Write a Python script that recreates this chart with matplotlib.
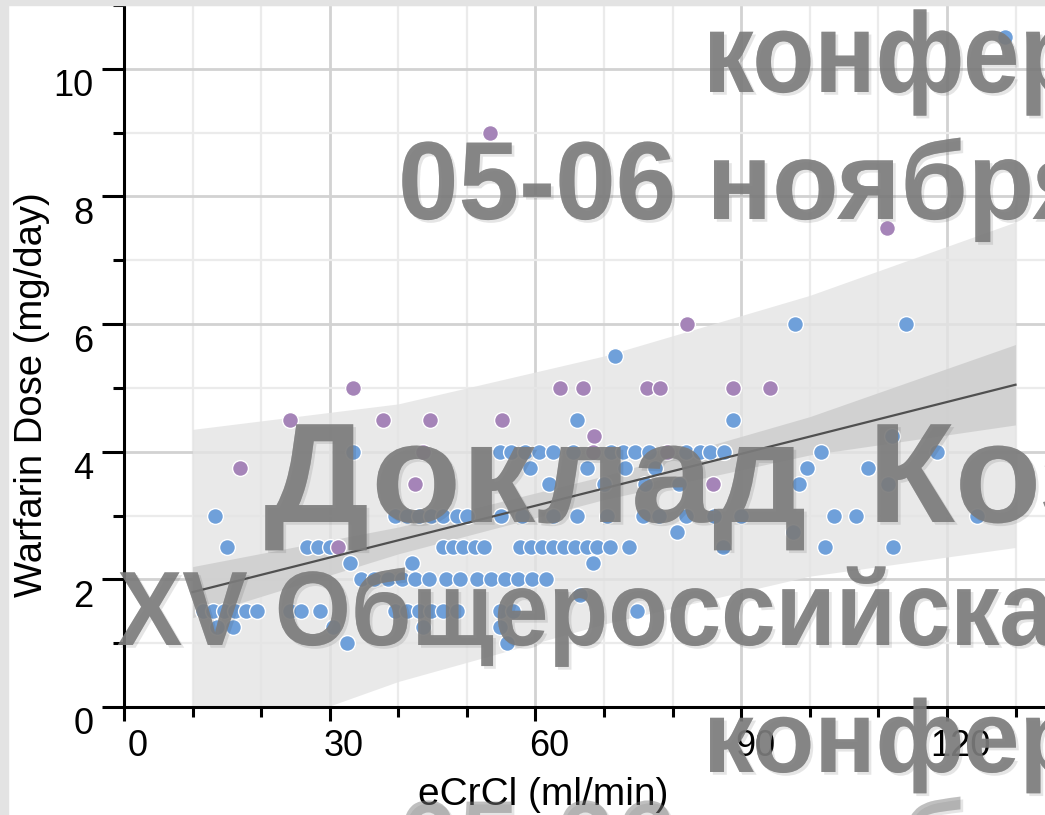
import matplotlib
matplotlib.use("Agg")
import matplotlib.pyplot as plt
import matplotlib.patheffects as pe
from matplotlib.patches import Rectangle, PathPatch
from matplotlib.ticker import MultipleLocator
from matplotlib.transforms import ScaledTranslation, Affine2D
from matplotlib.textpath import TextPath
from matplotlib.font_manager import FontProperties

plt.rcParams['font.family'] = ['Liberation Sans', 'DejaVu Sans']

# blue group (eCrCl, dose)
blue_x = [128.4,
          97.8, 114.1,
          71.6,
          66.0, 88.8,
          112.0,
          33.4, 54.8, 56.5, 58.5, 60.5, 62.5, 65.5, 71.0, 72.7, 74.5, 76.5, 82.0, 84.0, 85.5, 87.5, 101.7, 118.5,
          59.2, 67.5, 73.0, 77.5, 99.6, 108.5,
          62.0, 70.0, 76.0, 81.0, 98.5, 111.4,
          13.3, 39.5, 41.2, 43.0, 44.8, 46.5, 48.5, 50.0, 55.0, 58.0, 62.5, 66.0, 70.5, 75.7, 78.0, 82.0, 86.0,
          90.0, 103.6, 106.8, 124.4,
          80.6, 97.5,
          15.0, 26.7, 28.3, 30.0, 46.5, 48.0, 49.5, 51.2, 52.5, 57.7, 59.3, 61.0, 62.6, 64.2, 65.8, 67.5, 69.0,
          70.8, 73.6, 87.3, 102.2, 112.1,
          33.0, 42.0, 68.4,
          34.5, 36.5, 38.5, 40.5, 42.5, 44.5, 47.0, 49.0, 51.5, 53.5, 55.5, 57.5, 59.5, 61.5,
          66.5,
          11.5, 13.0, 14.6, 16.2, 17.8, 19.4, 24.2, 25.8, 28.6, 39.5, 41.2, 43.0, 44.8, 46.5, 48.5, 54.8, 56.7, 74.8,
          13.5, 15.9, 30.5, 43.6, 54.8,
          32.5, 55.8]
blue_y = [10.5,
          6.0, 6.0,
          5.5,
          4.5, 4.5,
          4.25,
          4.0, 4.0, 4.0, 4.0, 4.0, 4.0, 4.0, 4.0, 4.0, 4.0, 4.0, 4.0, 4.0, 4.0, 4.0, 4.0, 4.0,
          3.75, 3.75, 3.75, 3.75, 3.75, 3.75,
          3.5, 3.5, 3.5, 3.5, 3.5, 3.5,
          3.0, 3.0, 3.0, 3.0, 3.0, 3.0, 3.0, 3.0, 3.0, 3.0, 3.0, 3.0, 3.0, 3.0, 3.0, 3.0, 3.0,
          3.0, 3.0, 3.0, 3.0,
          2.75, 2.75,
          2.5, 2.5, 2.5, 2.5, 2.5, 2.5, 2.5, 2.5, 2.5, 2.5, 2.5, 2.5, 2.5, 2.5, 2.5, 2.5, 2.5,
          2.5, 2.5, 2.5, 2.5, 2.5,
          2.25, 2.25, 2.25,
          2.0, 2.0, 2.0, 2.0, 2.0, 2.0, 2.0, 2.0, 2.0, 2.0, 2.0, 2.0, 2.0, 2.0,
          1.75,
          1.5, 1.5, 1.5, 1.5, 1.5, 1.5, 1.5, 1.5, 1.5, 1.5, 1.5, 1.5, 1.5, 1.5, 1.5, 1.5, 1.5, 1.5,
          1.25, 1.25, 1.25, 1.25, 1.25,
          1.0, 1.0]

# purple group
purple_x = [53.4, 111.2, 82.1,
            33.4, 63.6, 66.9, 76.2, 78.1, 88.8, 94.2,
            24.2, 37.8, 44.6, 55.1,
            68.5,
            43.6, 68.4, 79.2,
            16.9,
            42.4, 85.9,
            31.2]
purple_y = [9.0, 7.5, 6.0,
            5.0, 5.0, 5.0, 5.0, 5.0, 5.0, 5.0,
            4.5, 4.5, 4.5, 4.5,
            4.25,
            4.0, 4.0, 4.0,
            3.75,
            3.5, 3.5,
            2.5]

# regression line and bands
fit_x = [10, 130]
fit_y = [1.8, 5.05]
band_x = [10, 40, 70, 100, 130]
ci_lo = [1.4, 2.4, 3.25, 3.95, 4.42]
ci_hi = [2.2, 2.82, 3.62, 4.55, 5.68]
pi_lo = [-0.75, 0.4, 1.3, 2.05, 2.5]
pi_hi = [4.35, 4.75, 5.5, 6.45, 7.6]

watermark = ["конференция", "05-06 ноября", "Доклад", "Коз", "XV Общероссийская", "конференция", "05-06 ноября"]

W, H = 1045, 815
fig = plt.figure(figsize=(W / 100, H / 100), dpi=100)
ax = fig.add_axes([124 / W, 108 / H, 921 / W, 702 / H])

ax.fill_between(band_x, pi_lo, pi_hi, color='#e4e4e4', alpha=0.8, lw=0, zorder=1)
ax.fill_between(band_x, ci_lo, ci_hi, color='#cfcfcf', alpha=0.9, lw=0, zorder=2)
ax.scatter(blue_x, blue_y, s=130, color='#6fa0da', edgecolor='white', linewidth=1.0, zorder=3)
ax.scatter(purple_x, purple_y, s=130, color='#a584b8', edgecolor='white', linewidth=1.0, zorder=3)
ax.plot(fit_x, fit_y, color='#505050', lw=1.6, zorder=4)

ax.set_xlim(0, 134.3)
ax.set_ylim(0, 11.0)
ax.xaxis.set_major_locator(MultipleLocator(30))
ax.xaxis.set_minor_locator(MultipleLocator(10))
ax.yaxis.set_major_locator(MultipleLocator(2))
ax.yaxis.set_minor_locator(MultipleLocator(1))
ax.grid(which='major', color='#d2d2d2', lw=2.0)
ax.grid(which='minor', color='#ebebeb', lw=1.6)
ax.set_axisbelow(True)

for side in ['top', 'right']:
    ax.spines[side].set_visible(False)
for side in ['left', 'bottom']:
    ax.spines[side].set_linewidth(2.2)

ax.tick_params(axis='x', which='major', direction='out', length=10, width=2.2, labelsize=26, pad=6)
ax.tick_params(axis='x', which='minor', direction='out', length=7, width=2.2)
ax.tick_params(axis='y', which='major', direction='out', length=16, width=2.2, labelsize=26, pad=6)
ax.tick_params(axis='y', which='minor', direction='out', length=8, width=2.2)

for lab in ax.get_yticklabels():
    lab.set_transform(lab.get_transform() + ScaledTranslation(0, -0.14, fig.dpi_scale_trans))
for lab in ax.get_xticklabels():
    lab.set_transform(lab.get_transform() + ScaledTranslation(0.14, 0, fig.dpi_scale_trans))

ax.set_xlabel('eCrCl (ml/min)', fontsize=28)
ax.set_ylabel('Warfarin Dose (mg/day)', fontsize=27.5)
ax.xaxis.set_label_coords(0.455, -0.100)
ax.yaxis.set_label_coords(-0.080, 0.445)

# light grey frame strips of the slide
fig.patches.append(Rectangle((0, 0), 8 / W, 1, transform=fig.transFigure, color='#e3e3e3', zorder=1))
fig.patches.append(Rectangle((0, 1 - 5 / H), 1, 5 / H, transform=fig.transFigure, color='#e3e3e3', zorder=1))

# watermark lines: left px, baseline px, em px, x-scale, y-scale, alpha
wm_left = [703, 398, 264, 868, 117, 703, 398]
wm_base = [92, 219, 522, 522, 645, 772, 878]
wm_em = [114, 111, 142, 142, 105.6, 114, 111]
wm_sx = [0.89, 0.98, 1.04, 1.0, 0.927, 0.89, 0.98]
wm_sy = [1.0, 1.0, 1.0, 1.0, 1.0, 0.9, 1.0]
wm_alpha = [0.7, 0.7, 0.7, 0.7, 0.7, 0.7, 0.28]

wm_font = FontProperties(family='Liberation Sans', weight='bold')
shadow = [pe.withSimplePatchShadow(offset=(2, -2), shadow_rgbFace='#303030', alpha=0.12), pe.Normal()]
for txt, px, py, em, sx, sy, al in zip(watermark, wm_left, wm_base, wm_em, wm_sx, wm_sy, wm_alpha):
    path = TextPath((0, 0), txt, size=em, prop=wm_font)
    tr = Affine2D().scale(sx, sy).translate(px, H - py)
    patch = PathPatch(path, transform=tr, facecolor='#7c7c7c', edgecolor='none',
                      alpha=al, zorder=10, path_effects=shadow)
    fig.add_artist(patch)

fig.savefig('out.png', dpi=100)
